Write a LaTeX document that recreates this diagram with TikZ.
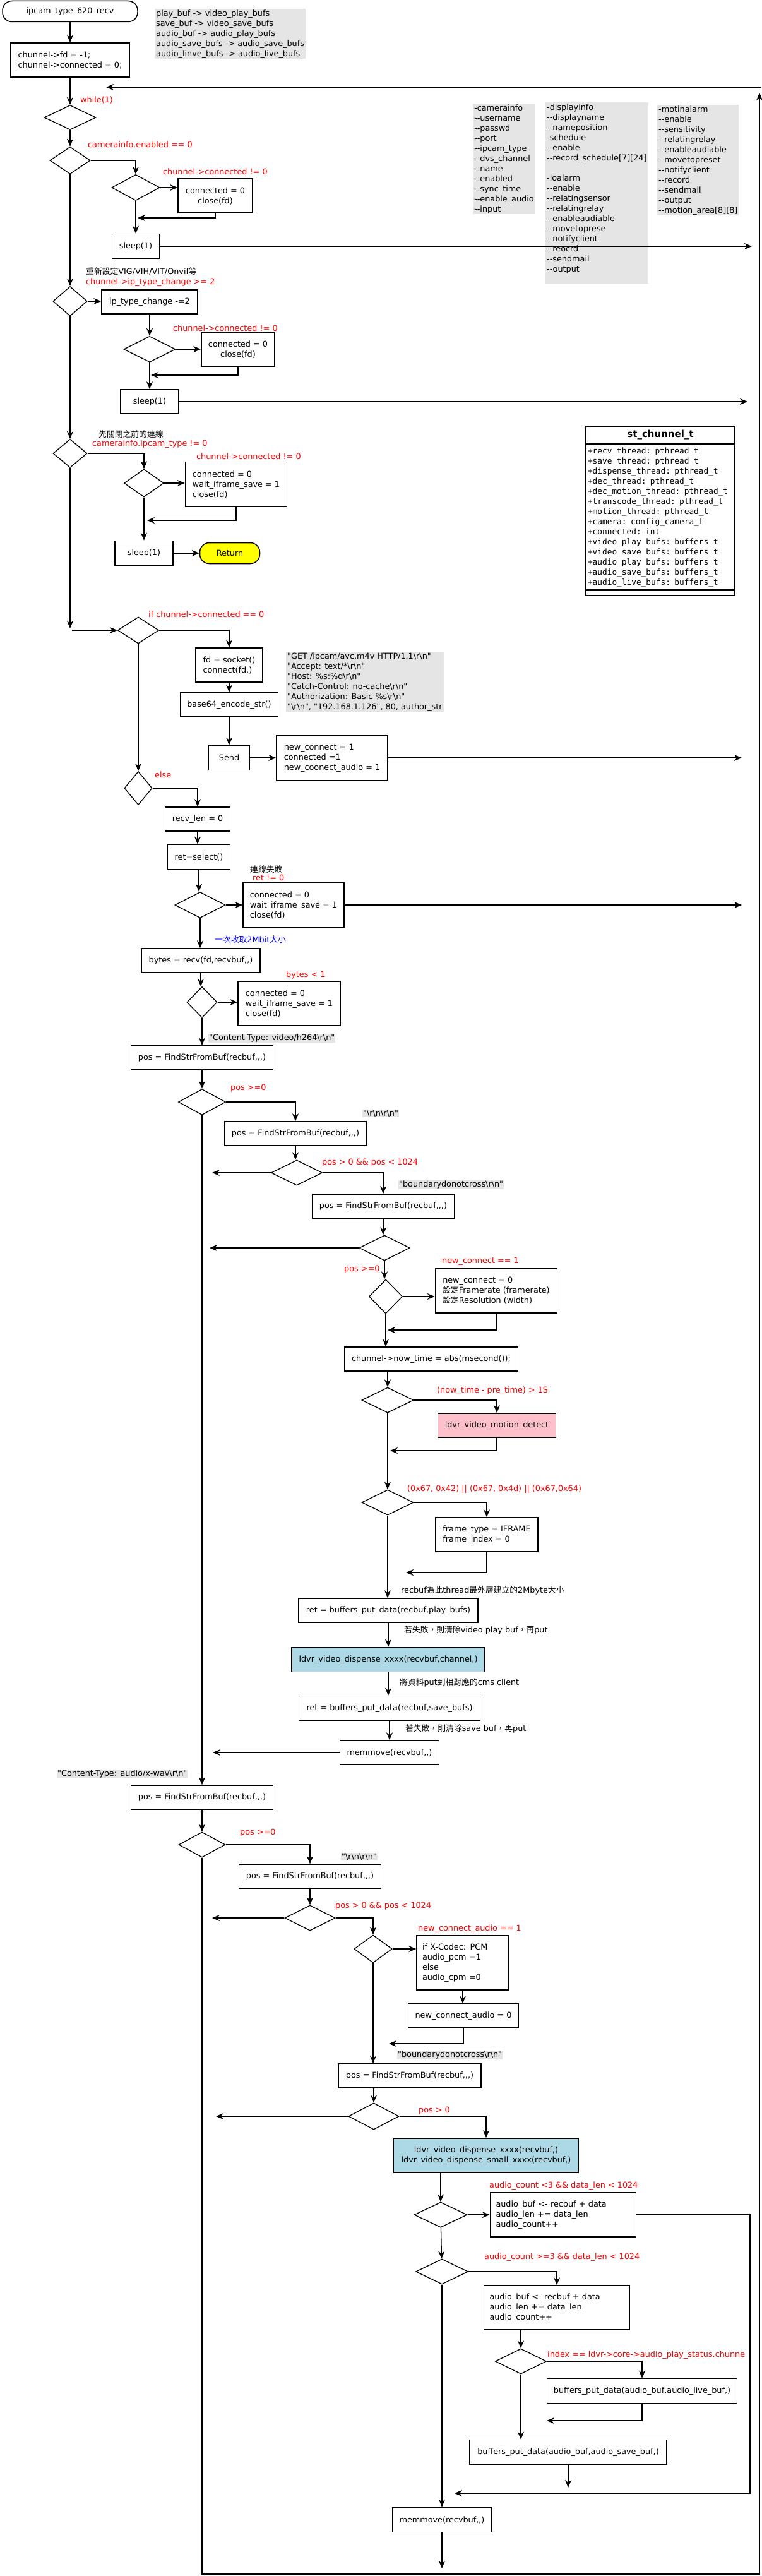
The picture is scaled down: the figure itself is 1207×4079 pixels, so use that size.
\documentclass[tikz,border=0pt]{standalone}
\usepackage{fontspec}
\setmainfont{DejaVu Sans}[Ligatures=TeXOff]
\newfontfamily\monofont{DejaVu Sans Mono}[Ligatures=TeXOff]
\newfontfamily\cjk{Noto Sans CJK TC}
\newcommand{\zh}[1]{{\cjk #1}}
\newcommand{\crlf}{\textbackslash r\textbackslash n}
\usetikzlibrary{arrows.meta}
\usetikzlibrary{shapes.geometric}
\definecolor{notegray}{HTML}{E5E5E5}
\definecolor{mdpink}{HTML}{FFC0CB}
\definecolor{dspblue}{HTML}{ADD8E6}
\definecolor{retyellow}{HTML}{FFFF00}

\begin{document}
\begin{tikzpicture}[x=1pt, y=-1pt, font=\fontsize{12.8pt}{16pt}\selectfont,
    procbox/.style={draw, line width=1.5pt, inner sep=0pt, align=center},
    cond/.style={diamond, draw, line width=1.3pt, inner sep=0pt},
    term/.style={draw, line width=1.5pt, rounded corners=15pt, inner sep=0pt},
    note/.style={fill=notegray, inner xsep=2pt, inner ysep=0pt, align=left, anchor=north west},
    redlbl/.style={text=red, anchor=west, inner sep=1pt},
    bluelbl/.style={text=blue, anchor=west, inner sep=1pt},
    txtlbl/.style={anchor=west, inner sep=1pt},
    graylbl/.style={fill=notegray, anchor=west, inner sep=1pt},
    link/.style={line width=1.3pt, -{Stealth[length=12pt, width=10pt, inset=4pt]}}]
    \useasboundingbox (0,0) rectangle (1207,4079);

    \node[term, minimum width=214pt, minimum height=33pt] (start) at (111,18) {ipcam\_type\_620\_recv};
    \node[procbox, align=left, minimum width=188pt, minimum height=54pt] (init) at (111,95) {chunnel->fd = -1;\\chunnel->connected = 0;};
    \node[note, minimum width=236pt, minimum height=79pt] (bufmap) at (245,14) {play\_buf -> video\_play\_bufs\\save\_buf -> video\_save\_bufs\\audio\_buf -> audio\_play\_bufs\\audio\_save\_bufs -> audio\_save\_bufs\\audio\_linve\_bufs -> audio\_live\_bufs};

    \node[note, minimum width=94pt, minimum height=175pt] (camnote) at (749,164) {-camerainfo\\--username\\--passwd\\--port\\--ipcam\_type\\--dvs\_channel\\--name\\--enabled\\--sync\_time\\--enable\_audio\\--input};
    \node[note, minimum width=159pt, minimum height=287pt] (dispnote) at (864,162) {-displayinfo\\--displayname\\--nameposition\\-schedule\\--enable\\--record\_schedule[7][24]\\ \mbox{}\\-ioalarm\\--enable\\--relatingsensor\\--relatingrelay\\--enableaudiable\\--movetoprese\\--notifyclient\\--reocrd\\--sendmail\\--output\\ \mbox{}};
    \node[note, minimum width=125pt, minimum height=175pt] (motnote) at (1041,166) {-motinalarm\\--enable\\--sensitivity\\--relatingrelay\\--enableaudiable\\--movetopreset\\--notifyclient\\--record\\--sendmail\\--output\\--motion\_area[8][8]};

    \node[procbox, minimum width=236pt, minimum height=28pt, font=\fontsize{15pt}{18pt}\selectfont\bfseries] (sttitle) at (1046,689) {st\_chunnel\_t};
    \node[procbox, anchor=north, minimum width=236pt, minimum height=229pt, align=left, text width=230pt, inner xsep=3pt, font={\monofont\fontsize{12.8pt}{16pt}\selectfont}] (stattr) at (sttitle.south) {+recv\_thread: pthread\_t\\+save\_thread: pthread\_t\\+dispense\_thread: pthread\_t\\+dec\_thread: pthread\_t\\+dec\_motion\_thread: pthread\_t\\+transcode\_thread: pthread\_t\\+motion\_thread: pthread\_t\\+camera: config\_camera\_t\\+connected: int\\+video\_play\_bufs: buffers\_t\\+video\_save\_bufs: buffers\_t\\+audio\_play\_bufs: buffers\_t\\+audio\_save\_bufs: buffers\_t\\+audio\_live\_bufs: buffers\_t};
    \node[procbox, anchor=north, minimum width=236pt, minimum height=8pt] (stops) at (stattr.south) {};

    \node[cond, minimum width=82pt, minimum height=39pt] (d1) at (111,186) {};
    \node[cond, minimum width=64pt, minimum height=43pt] (d2) at (111,254) {};
    \node[cond, minimum width=76pt, minimum height=41pt] (d3) at (215,297) {};
    \node[procbox, minimum width=118pt, minimum height=54pt] (c1) at (341,310) {connected = 0\\close(fd)};
    \node[procbox, minimum width=75pt, minimum height=39pt] (s1) at (215,390) {sleep(1)};
    \node[cond, minimum width=54pt, minimum height=47pt] (d4) at (111,477) {};
    \node[procbox, minimum width=152pt, minimum height=38pt] (ipt) at (237,478) {ip\_type\_change -=2};
    \node[cond, minimum width=82pt, minimum height=41pt] (d5) at (237,553) {};
    \node[procbox, minimum width=116pt, minimum height=54pt] (c2) at (377,553) {connected = 0\\close(fd)};
    \node[procbox, minimum width=92pt, minimum height=38pt] (s2) at (237,636) {sleep(1)};
    \node[cond, minimum width=54pt, minimum height=45pt] (d6) at (111,718) {};
    \node[cond, minimum width=63pt, minimum height=44pt] (d7) at (228,765) {};
    \node[procbox, align=left, minimum width=161pt, minimum height=71pt] (c3) at (374,767) {connected = 0\\wait\_iframe\_save = 1\\close(fd)};
    \node[procbox, minimum width=92pt, minimum height=39pt] (s3) at (228,876) {sleep(1)};
    \node[term, fill=retyellow, minimum width=95pt, minimum height=33pt] (ret) at (364,876) {Return};

    \node[cond, minimum width=65pt, minimum height=42pt] (d8) at (219,998) {};
    \node[procbox, align=left, minimum width=106pt, minimum height=54pt] (sock) at (363,1053) {fd = socket()\\connect(fd,)};
    \node[note, minimum width=246pt, minimum height=95pt] (http) at (453,1032) {"GET /ipcam/avc.m4v HTTP/1.1\crlf"\\"Accept: text/*\crlf"\\"Host: \%s:\%d\crlf"\\"Catch-Control: no-cache\crlf"\\"Authorization: Basic \%s\crlf"\\"\crlf", "192.168.1.126", 80, author\_str};
    \node[procbox, minimum width=155pt, minimum height=38pt] (b64) at (363,1116) {base64\_encode\_str()};
    \node[procbox, minimum width=65pt, minimum height=39pt] (send) at (363,1200) {Send};
    \node[procbox, align=left, minimum width=176pt, minimum height=71pt] (conn) at (526,1200) {new\_connect = 1\\connected =1\\new\_coonect\_audio = 1};
    \node[cond, minimum width=44pt, minimum height=53pt] (d9) at (219,1248) {};
    \node[procbox, minimum width=103pt, minimum height=38pt] (rlen) at (313,1297) {recv\_len = 0};
    \node[procbox, minimum width=99pt, minimum height=39pt] (sel) at (315,1357) {ret=select()};
    \node[cond, minimum width=80pt, minimum height=41pt] (d10) at (317,1433) {};
    \node[procbox, align=left, minimum width=160pt, minimum height=71pt] (fail) at (465,1433) {connected = 0\\wait\_iframe\_save = 1\\close(fd)};
    \node[procbox, minimum width=188pt, minimum height=38pt] (recv) at (318,1521) {bytes = recv(fd,recvbuf,,)};
    \node[cond, minimum width=48pt, minimum height=49pt] (d11) at (320,1587) {};
    \node[procbox, align=left, minimum width=162pt, minimum height=70pt] (brk) at (458,1589) {connected = 0\\wait\_iframe\_save = 1\\close(fd)};
    \node[procbox, minimum width=225pt, minimum height=38pt] (fv1) at (320,1675) {pos = FindStrFromBuf(recbuf,,,)};
    \node[cond, minimum width=75pt, minimum height=41pt] (d12) at (320,1745) {};
    \node[procbox, minimum width=224pt, minimum height=38pt] (fv2) at (468,1795) {pos = FindStrFromBuf(recbuf,,,)};
    \node[cond, minimum width=81pt, minimum height=40pt] (d13) at (470,1857) {};
    \node[procbox, minimum width=225pt, minimum height=38pt] (fv3) at (607,1910) {pos = FindStrFromBuf(recbuf,,,)};
    \node[cond, minimum width=80pt, minimum height=40pt] (d14) at (609,1976) {};
    \node[cond, minimum width=53pt, minimum height=54pt] (d15) at (611,2053) {};
    \node[procbox, align=left, minimum width=193pt, minimum height=70pt] (setfr) at (786,2044) {new\_connect = 0\\\zh{設定}Framerate (framerate)\\\zh{設定}Resolution (width)};
    \node[procbox, minimum width=275pt, minimum height=38pt] (now) at (683,2152) {chunnel->now\_time = abs(msecond());};
    \node[cond, minimum width=82pt, minimum height=40pt] (d16) at (614,2217) {};
    \node[procbox, fill=mdpink, minimum width=187pt, minimum height=38pt] (motion) at (787,2257) {ldvr\_video\_motion\_detect};
    \node[cond, minimum width=82pt, minimum height=40pt] (d17) at (614,2379) {};
    \node[procbox, align=left, minimum width=162pt, minimum height=54pt] (ifr) at (771,2430) {frame\_type = IFRAME\\frame\_index = 0};
    \node[procbox, minimum width=284pt, minimum height=38pt] (putplay) at (615,2550) {ret = buffers\_put\_data(recbuf,play\_bufs)};
    \node[procbox, fill=dspblue, minimum width=306pt, minimum height=39pt] (disp) at (615,2628) {ldvr\_video\_dispense\_xxxx(recvbuf,channel,)};
    \node[procbox, minimum width=287pt, minimum height=39pt] (putsave) at (617,2705) {ret = buffers\_put\_data(recbuf,save\_bufs)};
    \node[procbox, minimum width=157pt, minimum height=38pt] (mmv) at (617,2775) {memmove(recvbuf,,)};

    \node[procbox, minimum width=225pt, minimum height=38pt] (fa1) at (320,2846) {pos = FindStrFromBuf(recbuf,,,)};
    \node[cond, minimum width=74pt, minimum height=40pt] (d18) at (320,2921) {};
    \node[procbox, minimum width=225pt, minimum height=38pt] (fa2) at (491,2971) {pos = FindStrFromBuf(recbuf,,,)};
    \node[cond, minimum width=80pt, minimum height=40pt] (d19) at (491,3037) {};
    \node[cond, minimum width=60pt, minimum height=44pt] (d20) at (591,3086) {};
    \node[procbox, align=left, text width=128pt, inner xsep=9pt, minimum height=86pt] (pcm) at (733,3108) {if X-Codec: PCM\\audio\_pcm =1\\else\\audio\_cpm =0};
    \node[procbox, minimum width=175pt, minimum height=38pt] (nca) at (734,3192) {new\_connect\_audio = 0};
    \node[procbox, minimum width=226pt, minimum height=38pt] (fa3) at (649,3287) {pos = FindStrFromBuf(recbuf,,,)};
    \node[cond, minimum width=80pt, minimum height=42pt] (d21) at (592,3351) {};
    \node[procbox, fill=dspblue, minimum width=293pt, minimum height=54pt] (disp2) at (770,3413) {ldvr\_video\_dispense\_xxxx(recvbuf,)\\ldvr\_video\_dispense\_small\_xxxx(recvbuf,)};
    \node[cond, minimum width=84pt, minimum height=40pt] (d22) at (698,3507) {};
    \node[procbox, align=left, text width=213pt, inner xsep=9pt, minimum height=70pt] (acc1) at (892,3507) {audio\_buf <- recbuf + data\\audio\_len += data\_len\\audio\_count++};
    \node[cond, minimum width=83pt, minimum height=40pt] (d23) at (700,3597) {};
    \node[procbox, align=left, text width=213pt, inner xsep=9pt, minimum height=70pt] (acc2) at (882,3654) {audio\_buf <- recbuf + data\\audio\_len += data\_len\\audio\_count++};
    \node[cond, minimum width=81pt, minimum height=40pt] (d24) at (825,3739) {};
    \node[procbox, minimum width=301pt, minimum height=39pt] (putlive) at (1017,3786) {buffers\_put\_data(audio\_buf,audio\_live\_buf,)};
    \node[procbox, minimum width=312pt, minimum height=39pt] (putasave) at (900,3883) {buffers\_put\_data(audio\_buf,audio\_save\_buf,)};
    \node[procbox, minimum width=157pt, minimum height=39pt] (mmv2) at (700,3990) {memmove(recvbuf,,)};

    \node[redlbl] (lwhile) at (126,158) {while(1)};
    \node[redlbl] (lenab) at (138,229) {camerainfo.enabled == 0};
    \node[redlbl] (lconn1) at (257,272) {chunnel->connected != 0};
    \node[txtlbl] (lvig) at (135,430) {\zh{重新設定}VIG/VIH/VIT/Onvif\zh{等}};
    \node[redlbl] (liptc) at (135,447) {chunnel->ip\_type\_change >= 2};
    \node[redlbl] (lconn2) at (273,520) {chunnel->connected != 0};
    \node[txtlbl] (lclose) at (155,688) {\zh{先關閉之前的連線}};
    \node[redlbl] (ltype) at (145,703) {camerainfo.ipcam\_type != 0};
    \node[redlbl] (lconn3) at (310,723) {chunnel->connected != 0};
    \node[redlbl] (lif) at (234,973) {if chunnel->connected == 0};
    \node[redlbl] (lelse) at (244,1227) {else};
    \node[txtlbl] (lfail) at (395,1377) {\zh{連線失敗}};
    \node[redlbl] (lret) at (399,1390) {ret != 0};
    \node[bluelbl] (l2m) at (339,1488) {\zh{一次收取}2Mbit\zh{大小}};
    \node[redlbl] (lbytes) at (452,1544) {bytes < 1};
    \node[graylbl] (gh264) at (330,1644) {"Content-Type: video/h264\crlf"};
    \node[redlbl] (lpos1) at (364,1723) {pos >=0};
    \node[graylbl] (grn1) at (574,1763) {"\crlf\crlf"};
    \node[redlbl] (lpos2) at (509,1841) {pos > 0 \&\& pos < 1024};
    \node[graylbl] (gbd1) at (631,1876) {"boundarydonotcross\crlf"};
    \node[redlbl] (lpos3) at (544,2010) {pos >=0};
    \node[redlbl] (lnc) at (699,1997) {new\_connect == 1};
    \node[redlbl] (ltime) at (691,2202) {(now\_time - pre\_time) > 1S};
    \node[redlbl] (lhex) at (644,2358) {(0x67, 0x42) || (0x67, 0x4d) || (0x67,0x64)};
    \node[txtlbl] (lrecbuf) at (634,2518) {recbuf\zh{為此}thread\zh{最外層建立的}2Mbyte\zh{大小}};
    \node[txtlbl] (lfplay) at (639,2581) {\zh{若失敗，則清除}video play buf\zh{，再}put};
    \node[txtlbl] (lcms) at (632,2664) {\zh{將資料}put\zh{到相對應的}cms client};
    \node[txtlbl] (lfsave) at (641,2737) {\zh{若失敗，則清除}save buf\zh{，再}put};
    \node[graylbl] (gwav) at (90,2809) {"Content-Type: audio/x-wav\crlf"};
    \node[redlbl] (lpos4) at (379,2902) {pos >=0};
    \node[graylbl] (grn2) at (540,2940) {"\crlf\crlf"};
    \node[redlbl] (lpos5) at (530,3018) {pos > 0 \&\& pos < 1024};
    \node[redlbl] (lnca) at (661,3054) {new\_connect\_audio == 1};
    \node[graylbl] (gbd2) at (629,3254) {"boundarydonotcross\crlf"};
    \node[redlbl] (lpos6) at (662,3342) {pos > 0};
    \node[redlbl] (lac1) at (774,3461) {audio\_count <3 \&\& data\_len < 1024};
    \node[redlbl] (lac2) at (766,3574) {audio\_count >=3 \&\& data\_len < 1024};
    \node[redlbl] (lidx) at (866,3729) {index == ldvr->core->audio\_play\_status.chunne};

    \coordinate (loopstart) at (1205,138);
    \coordinate (loopend) at (168,138);
    \coordinate (back1) at (218,345);
    \coordinate (out1) at (1191,390);
    \coordinate (back2) at (239,594);
    \coordinate (out2) at (1184,636);
    \coordinate (back3) at (233,824);
    \coordinate (join1) at (111,995);
    \coordinate (join2) at (114,998);
    \coordinate (out3) at (1175,1200);
    \coordinate (out4) at (1175,1433);
    \coordinate (left13) at (336,1857);
    \coordinate (left14) at (332,1976);
    \coordinate (back15) at (614,2106);
    \coordinate (back16) at (618,2297);
    \coordinate (back17) at (643,2490);
    \coordinate (leftmm) at (337,2775);
    \coordinate (left19) at (336,3037);
    \coordinate (back20) at (616,3236);
    \coordinate (left21) at (342,3351);
    \coordinate (rightaud) at (1188,3948);
    \coordinate (backaud) at (720,3948);
    \coordinate (back24) at (866,3833);
    \coordinate (endsave) at (900,3939);
    \coordinate (endmm) at (700,4067);
    \coordinate (loopcorner) at (1203,4076);
    \coordinate (looptop) at (1203,147);

    \draw[link] (start) -- (init);
    \draw[link] (init) -- (d1);
    \draw[link] (loopstart) -- (loopend);
    \draw[link] (d1) -- (d2);
    \draw[link] (d2.east) -| (d3.north);
    \draw[link] (d3.east) -- (d3.east -| c1.west);
    \draw[link] (c1.south) |- (back1);
    \draw[link] (d3) -- (s1);
    \draw[link] (s1.east) -- (out1);
    \draw[link] (d2) -- (d4);
    \draw[link] (d4.east) -- (d4.east -| ipt.west);
    \draw[link] (ipt) -- (d5);
    \draw[link] (d5) -- (c2);
    \draw[link] (c2.south) |- (back2);
    \draw[link] (d5) -- (s2);
    \draw[link] (s2.east) -- (out2);
    \draw[link] (d4) -- (d6);
    \draw[link] (d6.east) -| (d7.north);
    \draw[link] (d7.east) -- (d7.east -| c3.west);
    \draw[link] (c3.south) |- (back3);
    \draw[link] (d7) -- (s3);
    \draw[link] (s3) -- (ret);
    \draw[link] (d6.south) -- (join1);
    \draw[link] (join2) -- (d8.west);
    \draw[link] (d8.east) -| (sock.north);
    \draw[link] (sock) -- (b64);
    \draw[link] (b64) -- (send);
    \draw[link] (send) -- (conn);
    \draw[link] (conn.east) -- (out3);
    \draw[link] (d8) -- (d9);
    \draw[link] (d9.east) -| (rlen.north);
    \draw[link] (rlen.south) -- (rlen.south |- sel.north);
    \draw[link] (sel.south) -- (sel.south |- d10.north);
    \draw[link] (d10) -- (fail);
    \draw[link] (fail.east) -- (out4);
    \draw[link] (d10.south) -- (d10.south |- recv.north);
    \draw[link] (recv.south) -- (recv.south |- d11.north);
    \draw[link] (d11.east) -- (d11.east -| brk.west);
    \draw[link] (d11) -- (fv1);
    \draw[link] (fv1) -- (d12);
    \draw[link] (d12.east) -| (fv2.north);
    \draw[link] (fv2.south) -- (fv2.south |- d13.north);
    \draw[link] (d13.west) -- (left13);
    \draw[link] (d13.east) -| (fv3.north);
    \draw[link] (fv3.south) -- (fv3.south |- d14.north);
    \draw[link] (d14.west) -- (left14);
    \draw[link] (d14.south) -- (d14.south |- d15.north);
    \draw[link] (d15.east) -- (d15.east -| setfr.west);
    \draw[link] (setfr.south) |- (back15);
    \draw[link] (d15.south) -- (d15.south |- now.north);
    \draw[link] (d16.north |- now.south) -- (d16.north);
    \draw[link] (d16.east) -| (motion.north);
    \draw[link] (motion.south) |- (back16);
    \draw[link] (d16) -- (d17);
    \draw[link] (d17.east) -| (ifr.north);
    \draw[link] (ifr.south) |- (back17);
    \draw[link] (d17.south) -- (d17.south |- putplay.north);
    \draw[link] (putplay) -- (disp);
    \draw[link] (disp.south) -- (disp.south |- putsave.north);
    \draw[link] (putsave) -- (mmv);
    \draw[link] (mmv.west) -- (leftmm);
    \draw[link] (d12) -- (fa1);
    \draw[link] (fa1) -- (d18);
    \draw[link] (d18.east) -| (fa2.north);
    \draw[link] (fa2) -- (d19);
    \draw[link] (d19.west) -- (left19);
    \draw[link] (d19.east) -| (d20.north);
    \draw[link] (d20.east) -- (d20.east -| pcm.west);
    \draw[link] (pcm.south) -- (pcm.south |- nca.north);
    \draw[link] (nca.south) |- (back20);
    \draw[link] (d20.south) -- (d20.south |- fa3.north);
    \draw[link] (d21.north |- fa3.south) -- (d21.north);
    \draw[link] (d21.west) -- (left21);
    \draw[link] (d21.east) -| (disp2.north);
    \draw[link] (d22.north |- disp2.south) -- (d22.north);
    \draw[link] (d22) -- (acc1);
    \draw[link] (acc1.east) -| (rightaud) -- (backaud);
    \draw[link] (d22) -- (d23);
    \draw[link] (d23.east) -| (acc2.north);
    \draw[link] (d24.north |- acc2.south) -- (d24.north);
    \draw[link] (d24.east) -| (putlive.north);
    \draw[link] (putlive.south) |- (back24);
    \draw[link] (d24.south) -- (d24.south |- putasave.north);
    \draw[link] (putasave.south) -- (endsave);
    \draw[link] (d23) -- (mmv2);
    \draw[link] (mmv2.south) -- (endmm);
    \draw[link] (d18.south) |- (loopcorner) -- (looptop);
\end{tikzpicture}
\end{document}
